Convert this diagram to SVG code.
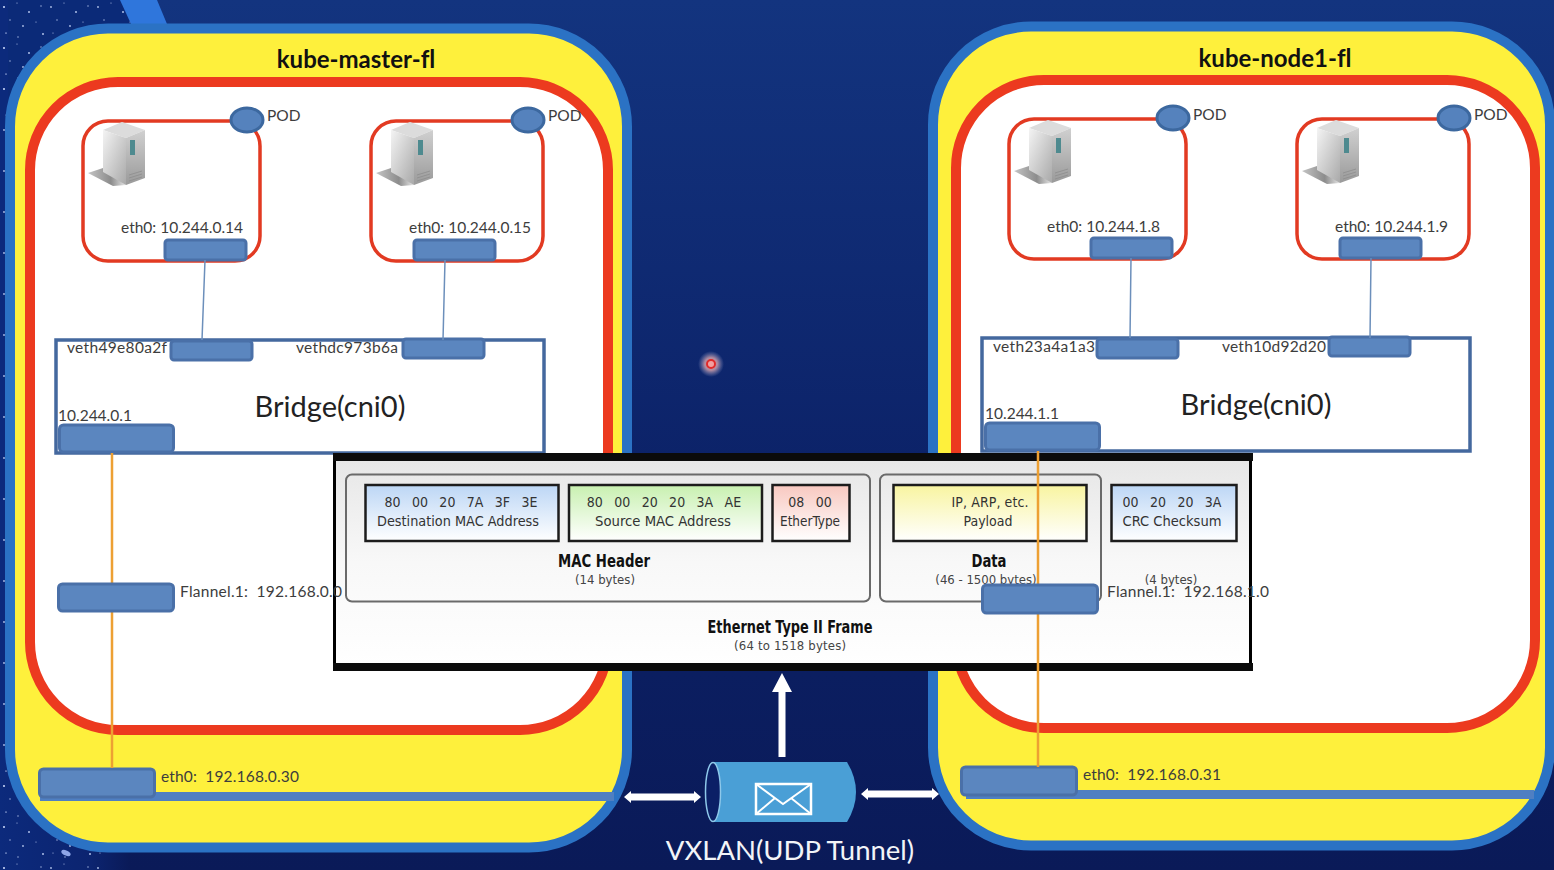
<svg xmlns="http://www.w3.org/2000/svg" width="1554" height="870" viewBox="0 0 1554 870">
<style>
.host{fill:#fef03c;stroke:#2b72c4;stroke-width:10}
.cluster{fill:#fff;stroke:#ec3a1f;stroke-width:10}
.pod{fill:#fff;stroke:#e23a22;stroke-width:3.5}
.port{fill:#5b86bf;stroke:#4a70a8;stroke-width:3}
.podc{fill:#5582bd;stroke:#3c689f;stroke-width:3}
.bridge{fill:#fff;stroke:#44689e;stroke-width:3.5}
.link{stroke:#6c8fbb;stroke-width:1.5;fill:none}
.org{stroke:#eda033;stroke-width:2.5;fill:none}
.bar{fill:#4f7fc2}
text{font-family:"Lato","Liberation Sans",sans-serif;fill:#3d3d3d;font-variant-ligatures:none}
.lbl{font-size:15.500px}
.title{font-size:24px;font-weight:700;fill:#111;text-anchor:middle}
.br{font-size:29px;fill:#222;text-anchor:middle}
.f{font-family:"DejaVu Sans Condensed","DejaVu Sans",sans-serif;font-size:14px;fill:#333;text-anchor:middle}
.hex{word-spacing:1.700px}
.fb{font-family:"DejaVu Sans Condensed","DejaVu Sans",sans-serif;font-size:17px;font-weight:700;fill:#111;text-anchor:middle}
.fs{font-family:"DejaVu Sans Condensed","DejaVu Sans",sans-serif;font-size:13px;fill:#444;text-anchor:middle}
.fld{stroke:#1c1c1c;stroke-width:2.5}
.grp{fill:none;stroke:#6a6a6a;stroke-width:2}
.wa{fill:#fff}
</style>
<defs>
<linearGradient id="bg" x1="0" y1="0" x2="0" y2="1"><stop offset="0" stop-color="#13347f"/><stop offset=".55" stop-color="#0c2268"/><stop offset="1" stop-color="#0a1a58"/></linearGradient>
<linearGradient id="fade" x1="0" y1="0" x2="1" y2="0"><stop offset="0" stop-color="#0c2a7c"/><stop offset=".7" stop-color="#0c2470"/><stop offset="1" stop-color="#0a1a58"/></linearGradient>
<linearGradient id="fr" x1="0" y1="0" x2="0" y2="1"><stop offset="0" stop-color="#e6e6e6"/><stop offset=".5" stop-color="#f8f8f8"/><stop offset="1" stop-color="#fff"/></linearGradient>
<linearGradient id="gb" x1="0" y1="0" x2="0" y2="1"><stop offset="0" stop-color="#bcd6f5"/><stop offset="1" stop-color="#fff"/></linearGradient>
<linearGradient id="gg" x1="0" y1="0" x2="0" y2="1"><stop offset="0" stop-color="#c8f0b0"/><stop offset="1" stop-color="#fff"/></linearGradient>
<linearGradient id="gr" x1="0" y1="0" x2="0" y2="1"><stop offset="0" stop-color="#f8c8c0"/><stop offset="1" stop-color="#fff"/></linearGradient>
<linearGradient id="gy" x1="0" y1="0" x2="0" y2="1"><stop offset="0" stop-color="#f8f4a0"/><stop offset="1" stop-color="#fff"/></linearGradient>
<linearGradient id="sv" x1="0" y1="0" x2="1" y2="1"><stop offset="0" stop-color="#f4f4f4"/><stop offset="1" stop-color="#a9a9a9"/></linearGradient>
<linearGradient id="sv2" x1="0" y1="0" x2="0" y2="1"><stop offset="0" stop-color="#d0d0d0"/><stop offset="1" stop-color="#9a9a9a"/></linearGradient>
<linearGradient id="shade" x1="0" y1="0" x2="1" y2="0"><stop offset="0" stop-color="#c4c4c4"/><stop offset=".6" stop-color="#8c8c8c"/><stop offset="1" stop-color="#e8e8e8"/></linearGradient>
<radialGradient id="halo"><stop offset="0" stop-color="#f0a0a0"/><stop offset=".5" stop-color="#c89aa8" stop-opacity=".85"/><stop offset="1" stop-color="#8090c0" stop-opacity="0"/></radialGradient>
<pattern id="stars" width="47" height="41" patternUnits="userSpaceOnUse">
<g fill="#aebfe8"><circle cx="4" cy="7" r=".9"/><circle cx="17" cy="3" r=".6"/><circle cx="29" cy="12" r="1"/><circle cx="41" cy="6" r=".7"/><circle cx="10" cy="20" r=".7"/><circle cx="23" cy="26" r=".9"/><circle cx="36" cy="22" r=".6"/><circle cx="6" cy="33" r=".6"/><circle cx="18" cy="37" r=".7"/><circle cx="43" cy="34" r="1"/></g>
</pattern>
<g id="server">
<polygon points="0,52 15,47 38,64 25,65" fill="url(#shade)"/>
<polygon points="15,9 34,1 57,9 38,17" fill="#dcdcdc"/>
<polygon points="15,9 38,17 38,64 15,51" fill="url(#sv)"/>
<polygon points="38,17 57,9 57,57 38,64" fill="url(#sv2)"/>
<rect x="42" y="19" width="5" height="15" fill="#4e8a8f"/>
<path d="M41 54L54 50M41 57L54 53M41 60L54 56" stroke="#8a8a8a" stroke-width=".7" fill="none"/>
</g>
</defs>
<rect id="bg-fill" width="1554" height="870" fill="url(#bg)"/>
<g id="starfield">
<rect width="135" height="110" fill="#0b2a78"/>
<rect width="8" height="870" fill="#0c2a7c"/>
<rect y="760" width="130" height="110" fill="url(#fade)"/>
<rect width="135" height="110" fill="url(#stars)"/>
<rect y="760" width="105" height="110" fill="url(#stars)"/>
<rect width="8" height="870" fill="url(#stars)"/>
<polygon points="120,0 157,0 167,24 131,24" fill="#2f76dc"/>
<ellipse cx="66" cy="853" rx="5" ry="2.500" fill="#8ea6e8" transform="rotate(25 66 853)"/>
</g>
<g id="pointer"><circle cx="711" cy="364" r="13" fill="url(#halo)"/><circle cx="711" cy="364" r="4" fill="#f2a0a0" stroke="#e02a2a" stroke-width="2"/></g>

<g id="kube-master-fl">
<rect class="host" x="10" y="28.500" width="617" height="819" rx="98"/>
<text class="title" x="356" y="68">kube-master-fl</text>
<rect class="cluster" x="30" y="82" width="578" height="648" rx="88"/>
<rect class="bar" x="40" y="792" width="574" height="9"/>
</g>
<g id="pod-m1">
<rect class="pod" x="83" y="121" width="177" height="140" rx="25"/>
<use href="#server" x="88" y="121"/>
<ellipse class="podc" cx="247" cy="120" rx="16" ry="12"/>
<text class="lbl" x="267" y="121">POD</text>
<text class="lbl" x="121" y="233">eth0: 10.244.0.14</text>
<rect class="port" x="165" y="240" width="81" height="20" rx="3"/>
</g>
<g id="pod-m2">
<rect class="pod" x="371" y="121" width="172" height="140" rx="25"/>
<use href="#server" x="376" y="121"/>
<ellipse class="podc" cx="528" cy="120" rx="16" ry="12"/>
<text class="lbl" x="548" y="121">POD</text>
<text class="lbl" x="409" y="233">eth0: 10.244.0.15</text>
<rect class="port" x="414" y="240" width="81" height="20" rx="3"/>
</g>
<g id="bridge-m">
<rect class="bridge" x="56" y="340" width="488" height="113"/>
<rect class="port" x="171" y="341" width="81" height="19" rx="3"/>
<rect class="port" x="403" y="339" width="81" height="19" rx="3"/>
<text class="lbl" x="67" y="353" textLength="100">veth49e80a2f</text>
<text class="lbl" x="296" y="353" textLength="102">vethdc973b6a</text>
<text class="br" x="330" y="417">Bridge(cni0)</text>
<text class="lbl" x="58" y="421">10.244.0.1</text>
<rect class="port" x="59.500" y="425" width="114" height="27" rx="4"/>
</g>
<g id="eth-m">
<rect class="port" x="39.500" y="769" width="115" height="28" rx="4"/>
<text class="lbl" x="161" y="782" xml:space="preserve" textLength="138">eth0:  192.168.0.30</text>
</g>

<g id="kube-node1-fl">
<rect class="host" x="933" y="26.500" width="617" height="819" rx="98"/>
<text class="title" x="1275" y="67">kube-node1-fl</text>
<rect class="cluster" x="956" y="80" width="579" height="648" rx="88"/>
<rect class="bar" x="966" y="790" width="568" height="9"/>
</g>
<g id="pod-n1">
<rect class="pod" x="1009" y="119" width="177" height="140" rx="25"/>
<use href="#server" x="1014" y="119"/>
<ellipse class="podc" cx="1173" cy="118" rx="16" ry="12"/>
<text class="lbl" x="1193" y="120">POD</text>
<text class="lbl" x="1047" y="232">eth0: 10.244.1.8</text>
<rect class="port" x="1091" y="238" width="81" height="20" rx="3"/>
</g>
<g id="pod-n2">
<rect class="pod" x="1297" y="119" width="172" height="140" rx="25"/>
<use href="#server" x="1302" y="119"/>
<ellipse class="podc" cx="1454" cy="118" rx="16" ry="12"/>
<text class="lbl" x="1474" y="120">POD</text>
<text class="lbl" x="1335" y="232">eth0: 10.244.1.9</text>
<rect class="port" x="1340" y="238" width="81" height="20" rx="3"/>
</g>
<g id="bridge-n">
<rect class="bridge" x="982" y="338" width="488" height="113"/>
<rect class="port" x="1097" y="339" width="81" height="19" rx="3"/>
<rect class="port" x="1329" y="337" width="81" height="19" rx="3"/>
<text class="lbl" x="993" y="352" textLength="102">veth23a4a1a3</text>
<text class="lbl" x="1222" y="352" textLength="104">veth10d92d20</text>
<text class="br" x="1256" y="415">Bridge(cni0)</text>
<text class="lbl" x="985" y="419">10.244.1.1</text>
<rect class="port" x="985.500" y="423" width="114" height="27" rx="4"/>
</g>
<g id="eth-n">
<rect class="port" x="961.500" y="767" width="115" height="28" rx="4"/>
<text class="lbl" x="1083" y="780" xml:space="preserve" textLength="138">eth0:  192.168.0.31</text>
</g>

<g id="connectors-below">
<path class="link" d="M205 260L202 340M445 260L443 340M1131 258L1130 338M1371 258L1370 338"/>
<path class="org" d="M112 453V768"/>
</g>

<g id="ethernet-frame">
<rect x="334.500" y="456" width="916" height="212" fill="url(#fr)" stroke="#000" stroke-width="3"/>
<rect x="333" y="453" width="920" height="8" fill="#0b0b0b"/>
<rect x="333" y="663" width="920" height="8" fill="#0b0b0b"/>
<rect class="grp" x="346" y="474.500" width="524" height="127" rx="6"/>
<rect class="grp" x="880" y="474.500" width="221" height="127" rx="6"/>
<rect class="fld" x="365.500" y="485" width="193" height="56" fill="url(#gb)"/>
<rect class="fld" x="569" y="485" width="193" height="56" fill="url(#gg)"/>
<rect class="fld" x="772.500" y="485" width="77" height="56" fill="url(#gr)"/>
<rect class="fld" x="893.500" y="485" width="193" height="56" fill="url(#gy)"/>
<rect class="fld" x="1111.500" y="485" width="125" height="56" fill="url(#gb)"/>
<text class="f hex" x="461" y="507" xml:space="preserve">80  00  20  7A  3F  3E</text>
<text class="f" x="458" y="526" textLength="162" lengthAdjust="spacingAndGlyphs">Destination MAC Address</text>
<text class="f hex" x="664" y="507" xml:space="preserve">80  00  20  20  3A  AE</text>
<text class="f" x="663" y="526" textLength="136" lengthAdjust="spacingAndGlyphs">Source MAC Address</text>
<text class="f hex" x="810" y="507" xml:space="preserve">08  00</text>
<text class="f" x="810" y="526" textLength="60" lengthAdjust="spacingAndGlyphs">EtherType</text>
<text class="f" x="990" y="507" textLength="77" lengthAdjust="spacing">IP, ARP, etc.</text>
<text class="f" x="988" y="526">Payload</text>
<text class="f hex" x="1172" y="507" xml:space="preserve">00  20  20  3A</text>
<text class="f" x="1172" y="526" textLength="99" lengthAdjust="spacingAndGlyphs">CRC Checksum</text>
<text class="fb" x="604" y="567" textLength="92" lengthAdjust="spacingAndGlyphs">MAC Header</text>
<text class="fs" x="605" y="584">(14 bytes)</text>
<text class="fb" x="989" y="567" textLength="35" lengthAdjust="spacingAndGlyphs">Data</text>
<text class="fs" x="986" y="584">(46 - 1500 bytes)</text>
<text class="fs" x="1171" y="584">(4 bytes)</text>
<text class="fb" x="790" y="633" textLength="165" lengthAdjust="spacingAndGlyphs">Ethernet Type II Frame</text>
<text class="fs" x="790" y="650" textLength="112" lengthAdjust="spacing">(64 to 1518 bytes)</text>
</g>

<g id="flannel-m">
<rect class="port" x="58.500" y="584" width="115" height="27" rx="4"/>
<text class="lbl" x="180" y="597" xml:space="preserve" textLength="162">Flannel.1:  192.168.0.0</text>
</g>
<g id="connectors-above"><path class="org" d="M1038 451V767"/></g>
<g id="flannel-n">
<rect class="port" x="982.500" y="585" width="115" height="28" rx="4"/>
<text class="lbl" x="1107" y="597" xml:space="preserve" textLength="162">Flannel.1:  192.168.1.0</text>
</g>

<g id="vxlan">
<path d="M714 762H847Q865 792 847 822H714Q705 792 714 762Z" fill="#4a9fd6"/>
<ellipse cx="713" cy="792" rx="7.500" ry="29.500" fill="#0b1f66" stroke="#8ec8ea" stroke-width="1.500"/>
<rect x="756" y="784" width="55" height="30" fill="none" stroke="#fff" stroke-width="2.500"/>
<path d="M756 784L783 804L811 784M756 814L775 798M811 814L791 798" fill="none" stroke="#fff" stroke-width="2"/>
<text x="790" y="860" font-size="27.500" text-anchor="middle" style="fill:#f2f4f8">VXLAN(UDP Tunnel)</text>
</g>
<g id="arrows">
<polygon class="wa" points="782,673 792,692 785.500,692 785.500,757 778.500,757 778.500,692 772,692"/>
<polygon class="wa" points="624,797 631,791 631,793.500 694,793.500 694,791 701,797 694,803 694,800.500 631,800.500 631,803"/>
<polygon class="wa" points="861,794 868,788 868,790.500 932,790.500 932,788 939,794 932,800 932,797.500 868,797.500 868,800"/>
</g>
</svg>
